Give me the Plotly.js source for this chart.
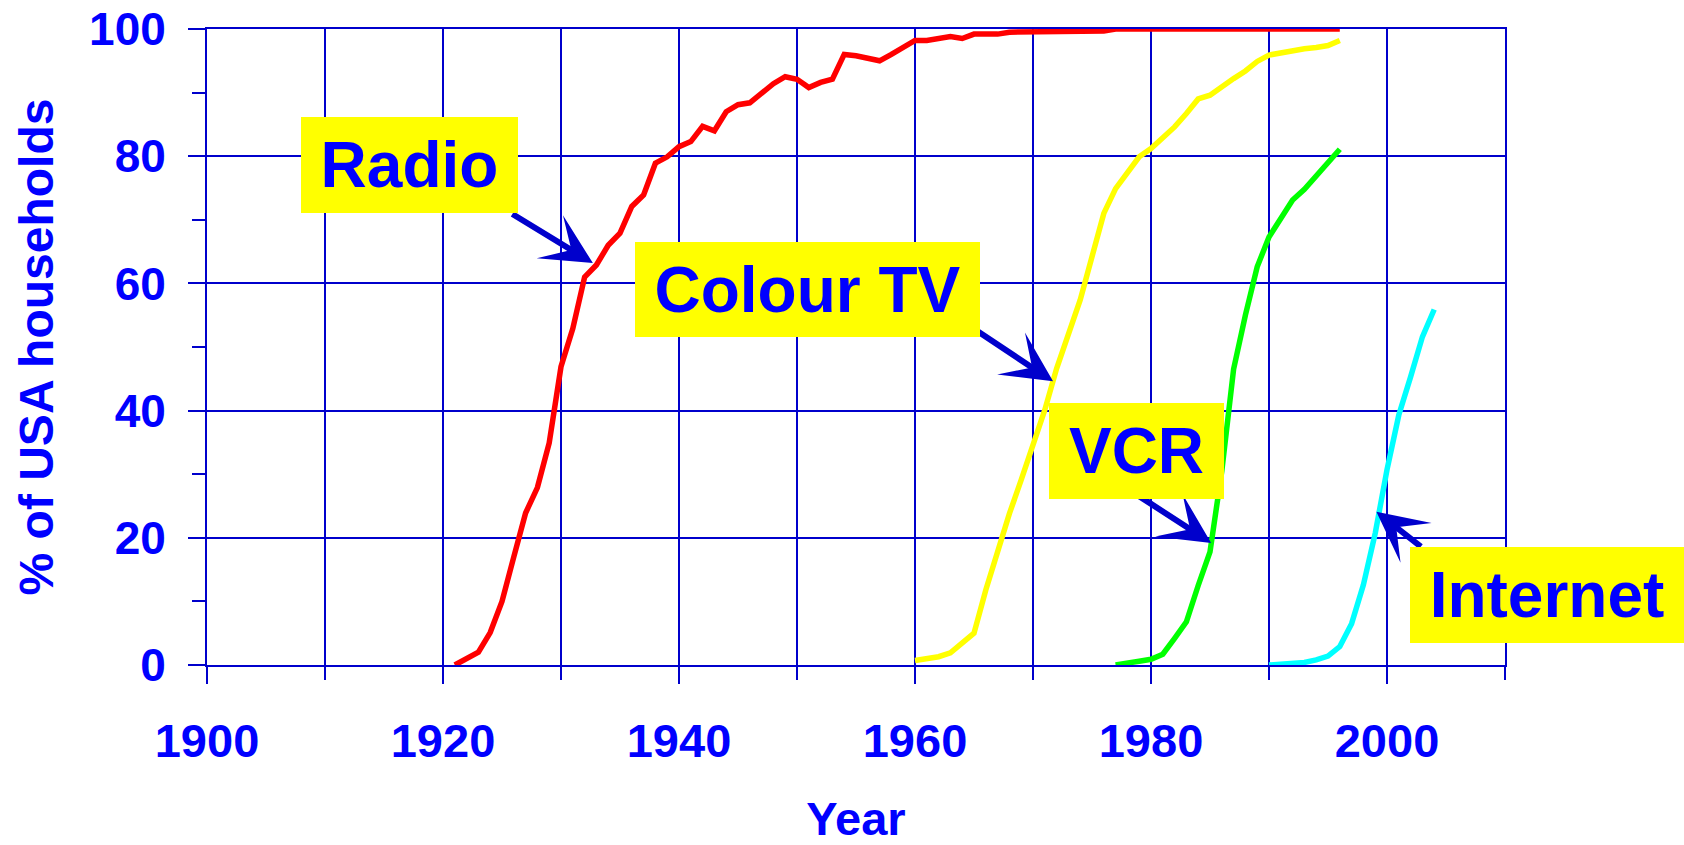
<!DOCTYPE html>
<html>
<head>
<meta charset="utf-8">
<script src="https://cdn.plot.ly/plotly-3.0.1.min.js"></script>
<style>html,body{margin:0;padding:0;background:#fff;}#chart{width:1684px;height:845px;}</style>
</head>
<body>
<div id="chart"></div>
<script>
// ---- data ----
const radioYears = [1921,1922,1923,1924,1925,1926,1927,1928,1929,1930,1931,1932,1933,1934,1935,1936,1937,1938,1939,1940,1941,1942,1943,1944,1945,1946,1947,1948,1949,1950,1951,1952,1953,1954,1955,1956,1957,1958,1959,1960,1961,1962,1963,1964,1965,1966,1967,1968,1969,1970,1971,1972,1973,1974,1975,1976,1977,1978,1979,1980,1981,1982,1983,1984,1985,1986,1987,1988,1989,1990,1991,1992,1993,1994,1995,1996];
const radioValues = [0,0.9,2.0,5.1,10.0,17.0,23.9,27.9,34.9,46.9,52.9,61.0,62.9,66.0,67.9,72.1,73.9,78.9,79.9,81.5,82.3,84.7,84.0,87.0,88.1,88.4,90.0,91.4,92.5,92.1,90.8,91.6,92.1,96.0,95.8,95.4,95.0,96.0,97.1,98.2,98.2,98.5,98.8,98.5,99.2,99.2,99.2,99.5,99.5,99.6,99.7,99.7,99.7,99.7,99.7,99.7,100,100,100,100,100,100,100,100,100,100,100,100,100,100,100,100,100,100,100,100];

const tvYears = [1960,1961,1962,1963,1964,1965,1966,1967,1968,1969,1970,1971,1972,1973,1974,1975,1976,1977,1978,1979,1980,1981,1982,1983,1984,1985,1986,1987,1988,1989,1990,1991,1992,1993,1994,1995,1996];
const tvValues = [0.7,1.05,1.3,1.9,3.5,5.0,11.8,18.1,23.8,29.1,34.3,40.1,46.6,52.1,57.4,64.2,71.0,74.9,77.3,79.9,81.2,82.9,84.6,86.7,89.0,89.6,91.0,92.2,93.4,94.9,95.9,96.3,96.6,96.9,97.1,97.4,98.2];

const vcrYears = [1977,1978,1979,1980,1981,1982,1983,1984,1985,1986,1987,1988,1989,1990,1991,1992,1993,1994,1995,1996];
const vcrValues = [0,0.4,0.6,0.9,1.7,4.2,6.8,12.5,17.8,30.5,46.5,55.0,62.6,67.3,70.4,73.1,74.8,77.0,78.9,81.1];

const netYears = [1990,1991,1992,1993,1994,1995,1996,1997,1998,1999,2000,2001,2002,2003,2004];
const netValues = [0,0.1,0.3,0.4,0.8,1.4,2.9,6.5,12.6,20.7,30.7,39.3,45.3,51.6,55.9];

const seriesNames = ['Radio','Colour TV','VCR','Internet'];
const xTickVals = [1900,1920,1940,1960,1980,2000];
const yTickVals = [0,20,40,60,80,100];

// ---- styling ----
const BLUE = '#0000ff';
const GRID = '#0000cc';
const FONT = 'Arial, "Liberation Sans", sans-serif';
const seriesColors = ['#ff0000','#ffff00','#00ff00','#00ffff'];
const allX = [radioYears, tvYears, vcrYears, netYears];
const allY = [radioValues, tvValues, vcrValues, netValues];

const traces = allX.map((xs, i) => ({
  type: 'scatter', mode: 'lines', name: seriesNames[i],
  x: xs, y: allY[i], cliponaxis: false,
  line: {color: seriesColors[i], width: 5.5}
}));

function label(text, x, y, w, h) {
  return {xref: 'paper', yref: 'paper', x: x, y: y, xanchor: 'center', yanchor: 'middle',
    text: text, showarrow: false, bgcolor: '#ffff00', width: w, height: h,
    borderpad: 0, borderwidth: 0,
    font: {family: FONT, size: 64, color: BLUE, weight: 'bold'}};
}
function arrow(x, y, ax, ay) {
  return {xref: 'x', yref: 'y', x: x, y: y, ax: ax, ay: ay, axref: 'pixel', ayref: 'pixel',
    text: '', showarrow: true, arrowhead: 3, arrowsize: 1.4, arrowwidth: 6,
    arrowcolor: '#0000cc', standoff: 0};
}

const layout = {
  width: 1684, height: 845,
  paper_bgcolor: '#ffffff', plot_bgcolor: '#ffffff',
  showlegend: false,
  margin: {l: 207, r: 179, t: 29, b: 180},
  xaxis: {
    range: [1900, 2010], tickmode: 'array', tickvals: xTickVals,
    showgrid: true, gridcolor: GRID, gridwidth: 2,
    ticks: 'outside', ticklen: 17, tickwidth: 2, tickcolor: GRID,
    showline: true, linecolor: GRID, linewidth: 2, mirror: true, zeroline: false,
    minor: {dtick: 10, tick0: 1900, showgrid: true, gridcolor: GRID, gridwidth: 2,
            ticks: 'outside', ticklen: 13, tickwidth: 2, tickcolor: GRID},
    tickfont: {family: FONT, size: 47, color: BLUE, weight: 'bold'},
    ticklabelstandoff: 17,
    title: {text: 'Year', standoff: 57, font: {family: FONT, size: 47, color: BLUE, weight: 'bold'}}
  },
  yaxis: {
    range: [0, 100], tickmode: 'array', tickvals: yTickVals,
    showgrid: true, gridcolor: GRID, gridwidth: 2,
    ticks: 'outside', ticklen: 17, tickwidth: 2, tickcolor: GRID,
    showline: true, linecolor: GRID, linewidth: 2, mirror: true, zeroline: false,
    minor: {dtick: 10, tick0: 0, showgrid: false,
            ticks: 'outside', ticklen: 13, tickwidth: 2, tickcolor: GRID},
    tickfont: {family: FONT, size: 46, color: BLUE, weight: 'bold'},
    ticklabelstandoff: 13,
    title: {text: '% of USA households', standoff: 20, font: {family: FONT, size: 48, color: BLUE, weight: 'bold'}}
  },
  annotations: [
    arrow(1932.7, 63.2, -82, -50),
    arrow(1971.7, 44.6, -80, -53),
    arrow(1985.1, 19.2, -74, -48),
    arrow(1999.1, 24.1, 46, 36),
    label(seriesNames[0], 0.1560, 0.7862, 217, 96),
    label(seriesNames[1], 0.4626, 0.5904, 345, 95),
    label(seriesNames[2], 0.7161, 0.3365, 175, 96),
    label(seriesNames[3], 1.0324, 0.1101, 274, 96)
  ]
};

Plotly.newPlot('chart', traces, layout, {displayModeBar: false, staticPlot: true});
</script>
</body>
</html>
